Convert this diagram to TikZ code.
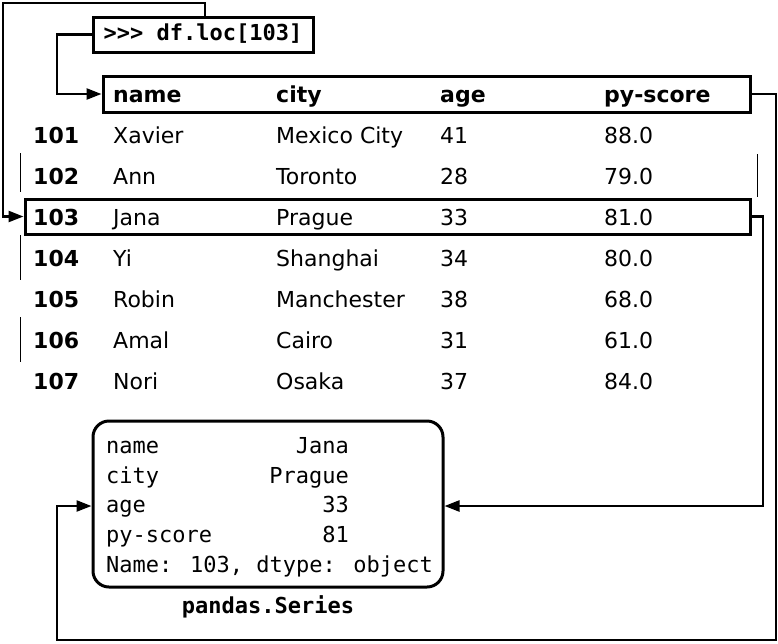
\documentclass[tikz,border=0pt]{standalone}
\usepackage{fontspec}
\setmainfont{DejaVu Sans}
\newfontfamily\mono{DejaVu Sans Mono}
\usetikzlibrary{arrows.meta}
\begin{document}
\begin{tikzpicture}[x=1pt,y=-1pt,
  every node/.style={inner sep=0pt, font=\fontsize{22}{26}\selectfont},
  boxline/.style={draw, line width=3pt},
  conn/.style={line width=2.4pt, -{Triangle[length=15pt,width=11pt]}},
  cell/.style={anchor=base west},
  bcell/.style={anchor=base west, font=\fontsize{22}{26}\selectfont\bfseries},
  mcell/.style={font=\fontsize{22}{26}\selectfont\mono},
  thin/.style={line width=1pt}]
\useasboundingbox (0,0) rectangle (778,643);
% command box
\node[boxline, minimum width=220pt, minimum height=35pt, text height=16pt, text depth=4pt, font=\fontsize{22}{26}\selectfont\mono\bfseries] (loc) at (203,34.5) {>>> df.loc[103]};
% header and selected row boxes
\node[boxline, minimum width=647pt, minimum height=36pt] (hdr) at (426.5,94) {};
\node[boxline, minimum width=725pt, minimum height=35pt] (row) at (387.5,216.5) {};
% header
\node[bcell] (h1) at (113,102) {name};
\node[bcell] (h2) at (276,102) {city};
\node[bcell] (h3) at (440,102) {age};
\node[bcell] (h4) at (604,102) {py-score};
% rows
\foreach \i/\n/\c/\a/\s [count=\k from 0] in {101/Xavier/Mexico City/41/88.0,102/Ann/Toronto/28/79.0,103/Jana/Prague/33/81.0,104/Yi/Shanghai/34/80.0,105/Robin/Manchester/38/68.0,106/Amal/Cairo/31/61.0,107/Nori/Osaka/37/84.0}{
  \node[bcell] (i\i) at (33,143+41*\k) {\i};
  \node[cell] (n\i) at (113,143+41*\k) {\n};
  \node[cell] (c\i) at (276,143+41*\k) {\c};
  \node[cell] (a\i) at (440,143+41*\k) {\a};
  \node[cell] (s\i) at (604,143+41*\k) {\s};
}
% series box
\node[boxline, rounded corners=16pt, minimum width=350pt, minimum height=166pt] (ser) at (268,504) {};
\node[mcell, anchor=base west] (k1) at (106,453) {name};
\node[mcell, anchor=base west] (k2) at (106,483) {city};
\node[mcell, anchor=base west] (k3) at (106,512) {age};
\node[mcell, anchor=base west] (k4) at (106,542) {py-score};
\node[mcell, anchor=base west] (k5) at (106,572) {Name: 103, dtype: object};
\node[mcell, anchor=base east] (v1) at (349,453) {Jana};
\node[mcell, anchor=base east] (v2) at (349,483) {Prague};
\node[mcell, anchor=base east] (v3) at (349,512) {33};
\node[mcell, anchor=base east] (v4) at (349,542) {81};
\node[font=\fontsize{22}{26}\selectfont\mono\bfseries, anchor=base] (cap) at (268,613) {pandas.Series};
% connectors
\coordinate (t1) at (205,3);
\coordinate (t2) at (3,3);
\draw[conn] ([xshift=2pt]loc.north) -- (t1) -- (t2) |- (row.west);
\coordinate (l1) at (57,34.5);
\draw[conn] (loc.west) -- (l1) |- (hdr.west);
\coordinate (r1) at (776,94);
\coordinate (r2) at (776,640);
\coordinate (r3) at (57,640);
\draw[conn] (hdr.east) -- (r1) -- (r2) -- (r3) |- ([yshift=-2pt]ser.west);
\coordinate (q1) at (763,216.5);
\draw[conn] (row.east) -- (q1) |- ([yshift=-2pt]ser.east);
% faint leftover rules
\draw[thin] (20,153) -- (20,192);
\draw[thin] (20,235) -- (20,280);
\draw[thin] (20,317) -- (20,362);
\draw[thin] (757,154) -- (757,197);
\end{tikzpicture}
\end{document}
